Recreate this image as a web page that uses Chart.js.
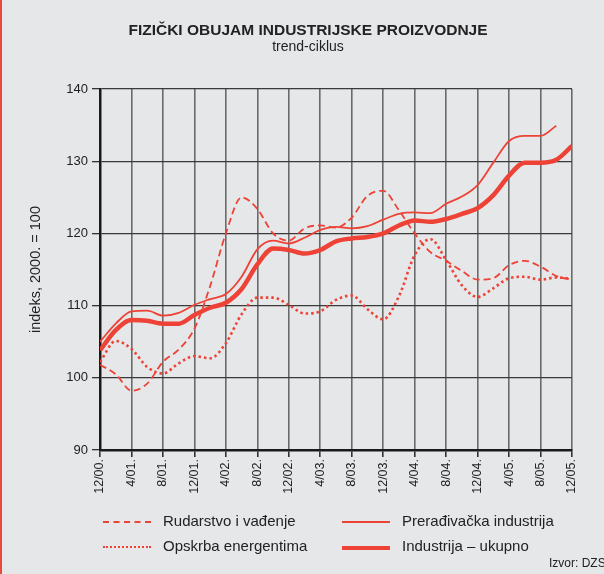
<!DOCTYPE html>
<html>
<head>
<meta charset="utf-8">
<script src="https://cdn.jsdelivr.net/npm/chart.js@4"></script>
<style>
  body { margin: 0; background: #e6e7e9; font-family: 'Liberation Sans', Arial, sans-serif; color: #222; }
  #page { position: relative; width: 604px; height: 574px; overflow: hidden; border-left: 2px solid #ea4a3e; box-sizing: border-box; }
  #chart { position: absolute; left: -2px; top: 0; }
  .title { position: absolute; left: 4px; width: 604px; text-align: center; }
  #t1 { top: 21px; font-size: 15.5px; font-weight: bold; }
  #t2 { top: 38px; font-size: 14px; }
  .leg { position: absolute; font-size: 15px; white-space: nowrap; }
  .sample { position: absolute; width: 48px; height: 0; }
  #src { position: absolute; left: 547px; top: 556px; font-size: 12px; white-space: nowrap; }
</style>
</head>
<body>
<div id="page">
  <canvas id="chart" width="604" height="574"></canvas>
  <div class="title" id="t1">FIZIČKI OBUJAM INDUSTRIJSKE PROIZVODNJE</div>
  <div class="title" id="t2">trend-ciklus</div>
  <div id="legend"></div>
  <div id="src">Izvor: DZS</div>
</div>
<script>
const RED = '#ee4236';

// x in months since 12/2000
const months = [0, 2, 4, 6, 8, 10, 12, 14, 16, 18, 20, 22, 24, 26, 28, 30,
  32, 34, 36, 38, 40, 42, 44, 46, 48, 50, 52, 54, 56, 58, 60];

const tickLabels = ['12/00.', '4/01.', '8/01.', '12/01.', '4/02.', '8/02.', '12/02.', '4/03.',
  '8/03.', '12/03.', '4/04.', '8/04.', '12/04.', '4/05.', '8/05.', '12/05.'];

const rudarstvo = [101.8, 100.5, 98.2, 99.2, 102.2, 103.9, 106.8, 112.7, 120.0, 125.0, 123.4,
  120.0, 119.0, 120.7, 121.1, 120.8, 122.2, 125.2, 125.9, 123.2, 120.0, 117.4, 116.2, 114.8,
  113.6, 113.8, 115.6, 116.2, 115.4, 114.1, 113.6];

const preradivacka = [105.0, 107.5, 109.2, 109.3, 108.6, 109.0, 110.1, 110.9, 111.6, 114.0, 117.8,
  119.0, 118.6, 119.4, 120.5, 120.9, 120.7, 121.0, 121.9, 122.7, 122.9, 122.8, 124.1, 125.1,
  126.7, 129.8, 132.8, 133.5, 133.5, 134.9, null];

const opskrba = [102.2, 105.1, 104.0, 101.5, 100.6, 102.0, 103.0, 102.7, 104.8, 108.8, 111.1,
  111.1, 110.1, 108.9, 109.2, 110.8, 111.4, 109.5, 108.1, 111.3, 117.0, 119.2, 116.3, 112.8,
  111.2, 112.4, 113.8, 114.0, 113.6, 113.9, 113.7];

const ukupno = [103.8, 106.6, 108.0, 107.9, 107.5, 107.5, 108.7, 109.7, 110.4, 112.3, 115.7,
  117.9, 117.7, 117.2, 117.7, 118.9, 119.3, 119.5, 120.0, 121.1, 121.8, 121.6, 122.0, 122.7,
  123.5, 125.3, 128.0, 129.8, 129.8, 130.2, 132.1];

const seriesNames = ['Rudarstvo i vađenje', 'Prerađivačka industrija', 'Opskrba energentima', 'Industrija – ukupno'];

function pts(vals) {
  return months.map((m, i) => ({ x: m, y: vals[i] }));
}

const datasets = [
  { label: seriesNames[0], data: pts(rudarstvo), borderWidth: 1.8, borderDash: [7, 4] },
  { label: seriesNames[2], data: pts(opskrba), borderWidth: 2.6, borderDash: [2.5, 3] },
  { label: seriesNames[1], data: pts(preradivacka), borderWidth: 1.8 },
  { label: seriesNames[3], data: pts(ukupno), borderWidth: 4.5 },
].map((d) => Object.assign({
  borderColor: RED,
  pointRadius: 0,
  fill: false,
  cubicInterpolationMode: 'monotone',
  borderCapStyle: 'butt',
}, d));

new Chart(document.getElementById('chart'), {
  type: 'line',
  data: { datasets },
  options: {
    responsive: false,
    animation: false,
    layout: { padding: { top: 89, right: 32, left: 0, bottom: 0 } },
    plugins: { legend: { display: false }, tooltip: { enabled: false } },
    scales: {
      x: {
        type: 'linear',
        min: 0,
        max: 60,
        afterFit: (s) => { s.height = 124; },
        border: { color: '#1a1a1a', width: 2.5 },
        grid: { color: '#6a6a6a', lineWidth: 1.6, tickLength: 7, tickColor: '#333' },
        ticks: {
          stepSize: 4,
          autoSkip: false,
          maxRotation: 90,
          minRotation: 90,
          padding: 2,
          color: '#222',
          font: { family: "'Liberation Sans', Arial, sans-serif", size: 12.5 },
          callback: (v) => tickLabels[Math.round(v / 4)],
        },
      },
      y: {
        min: 90,
        max: 140,
        afterFit: (s) => { s.width = 100; },
        border: { color: '#1a1a1a', width: 2.5 },
        grid: { color: '#3a3a3a', lineWidth: 1.3, tickLength: 8, tickColor: '#333' },
        ticks: {
          stepSize: 10,
          padding: 4,
          color: '#222',
          font: { family: "'Liberation Sans', Arial, sans-serif", size: 13 },
        },
        title: {
          display: true,
          text: 'indeks, 2000. = 100',
          color: '#222',
          padding: { top: 27, bottom: 0 },
          font: { family: "'Liberation Sans', Arial, sans-serif", size: 14.5 },
        },
      },
    },
  },
});

// legend, 2 x 2 as in the original
const legendItems = [
  { name: seriesNames[0], style: '2px dashed ' + RED, x: 101, y: 512 },
  { name: seriesNames[1], style: '2px solid ' + RED, x: 340, y: 512 },
  { name: seriesNames[2], style: '2px dotted ' + RED, x: 101, y: 537 },
  { name: seriesNames[3], style: '4px solid ' + RED, x: 340, y: 537 },
];
const legend = document.getElementById('legend');
for (const it of legendItems) {
  const s = document.createElement('div');
  s.className = 'sample';
  s.style.left = it.x + 'px';
  s.style.top = (it.y + 9) + 'px';
  s.style.borderTop = it.style;
  legend.appendChild(s);
  const t = document.createElement('div');
  t.className = 'leg';
  t.style.left = (it.x + 60) + 'px';
  t.style.top = it.y + 'px';
  t.textContent = it.name;
  legend.appendChild(t);
}
</script>
</body>
</html>
